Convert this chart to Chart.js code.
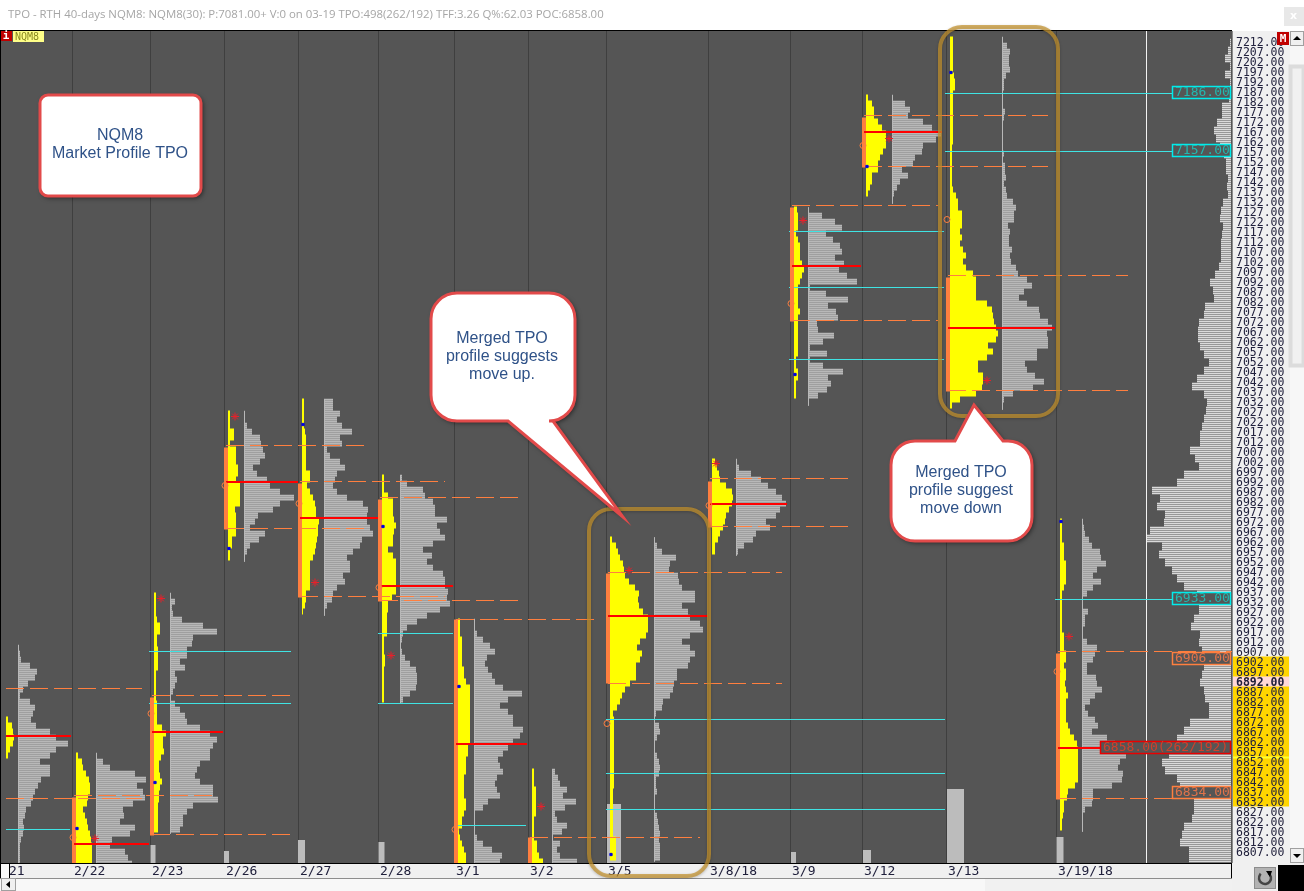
<!DOCTYPE html>
<html>
<head>
<meta charset="utf-8">
<title>TPO NQM8</title>
<style>
html, body { margin: 0; padding: 0; background: #fff; overflow: hidden; }
canvas { display: block; }
</style>
<script src="https://cdn.jsdelivr.net/npm/chart.js@4"></script>
</head>
<body>
<canvas id="tpoChart" width="1304" height="891"></canvas>
<script>
// x axis: day boundaries and their date labels
const dayLines = [72, 150, 224, 298, 378, 454, 528, 606, 708, 790, 862, 946, 1056];
const dayLabels = ['2/22', '2/23', '2/26', '2/27', '2/28', '3/1', '3/2', '3/5', '3/8/18', '3/9', '3/12', '3/13', '3/19/18'];

// one entry per session, 2/21 ... 3/19
const yellowBase = [6, 76, 154, 228, 302, 382, 458, 532, 610, 712, 794, 866, 950, 1060];
const grayBase = [18, 96, 170, 244, 324, 400, 474, 552, 654, 736, 808, 892, 1002, 1082];
const yellowTop = [6874, 6856, 6936, 7027, 7033, 6995, 6923, 6848, 6964, 7003, 7129, 7185, 7214, 6973];
const grayTop = [6910, 6856, 6936, 7027, 7033, 6995, 6923, 6848, 6964, 7003, 7129, 7185, 7214, 6973];

// TPO widths, one value per 3 price rows
const yellowWidths = [
  [2,6,7,8,7,4,2],
  [2,6,7,10,13,14,14,12,11,7,9,11,12,14,15,16,16,16,16],
  [2,2,2,2,3,6,6,3,3,4,4,4,4,2,2,2,2,2,3,3,3,3,8,12,9,9,10,7,5,5,6,8,6,5,5,4,4,4,4,4],
  [2,2,2,6,6,2,8,8,8,10,10,8,12,12,12,12,7,8,8,8,8,4,4,2,2],
  [2,2,2,2,2,3,4,4,4,4,4,4,8,8,5,8,11,13,14,14,17,16,16,15,14,13,11,8,8,8,8,8,4,4,3,1],
  [2,2,2,6,11,11,11,12,14,12,11,11,6,11,14,14,14,14,14,14,10,6,6,5,5,5,5,2,2,2,3,3,2,2,2,2,2,2],
  [2,2,2,4,4,4,4,4,6,6,8,12,12,12,12,12,12,12,12,12,12,10,10,8,8,8,6,6,6,6,8,8,6,4,4,1,2,4,6,8,8],
  [2,2,2,4,4,4,4,4,2,2,2,2,5,5,7,11],
  [2,6,8,10,13,14,15,19,25,29,28,29,33,38,38,38,36,30,27,32,30,26,26,26,20,15,12,10,7,3,4,4,4,4,4,4,4,4,4,4,4,4,3,3,3,3,3,3,3,3,6,6,6,6],
  [3,5,7,8,14,20,21,20,17,14,13,11,8,6,3,3],
  [3,4,4,4,2,4,6,6,6,8,10,8,6,4,4,4,4,6,4,4,4,4,4,4,4,2,2,4,4,2,2,2],
  [2,6,8,8,12,16,20,20,20,17,14,12,12,6,6,4,2],
  [3,3,3,3,3,3,4,5,5,3,3,3,3,3,3,3,3,3,2,2,2,2,2,2,2,3,6,8,8,12,12,12,10,12,10,13,16,13,16,23,26,26,26,26,37,42,43,44,46,48,46,38,43,37,28,28,33,33,32,26,10,2],
  [2,2,2,2,4,4,4,6,6,6,6,4,2,2,2,2,2,2,2,4,4,4,6,6,4,6,6,5,6,8,6,6,6,6,8,10,14,17,18,18,18,18,18,18,15,8,7,4,4,3,2,2]
];
const grayWidths = [
  [1,2,3,12,19,17,10,5,2,12,17,15,13,18,32,38,50,38,32,22,32,32,23,20,17,15,13,8,7,5,6,5,3,2,2,2,2],
  [1,7,14,39,50,41,47,49,37,27,28,24,39,34,16,14,29,32,36],
  [1,5,2,3,12,33,47,23,22,17,17,10,15,5,7,5,3,1,5,10,15,17,30,40,47,43,40,40,30,27,25,30,43,43,48,23,17,13,13,10],
  [1,1,3,8,16,17,19,21,16,9,13,23,26,36,50,36,29,14,11,6,21,15,6,3,1],
  [9,9,16,13,18,28,16,18,3,6,16,21,13,11,9,13,23,39,44,43,43,46,49,38,36,29,23,26,26,19,21,13,9,8,3,1],
  [2,7,23,25,33,35,35,47,37,40,45,33,23,32,27,33,43,45,45,48,47,50,40,27,17,7,3,2,1,2,5,10,16,17,17,16,10,3],
  [1,1,3,9,16,21,13,11,14,18,21,29,48,34,26,34,39,39,49,46,39,34,29,24,26,29,23,21,23,26,14,9,1,1,1,1,3,9,18,28,26],
  [3,6,8,15,11,24,13,3,5,15,10,1,8,5,8,25],
  [1,3,8,22,16,15,24,25,28,41,41,28,34,36,46,49,36,28,36,41,36,34,23,23,20,19,16,9,8,2,1,5,6,3,1,1,3,5,6,5,2,2,3,1,1,1,3,4,5,6,5,6,6,6],
  [1,3,15,25,32,40,46,50,44,40,30,34,20,17,8,2],
  [1,14,27,34,18,25,32,34,27,36,31,39,49,2,18,40,20,28,30,9,10,26,15,2,19,2,15,35,20,23,19,10,1],
  [1,13,18,16,31,40,49,44,31,30,23,21,10,16,8,5,2,1],
  [1,5,8,7,7,8,4,2,2,1,1,1,3,2,1,1,1,1,1,2,1,3,3,4,2,4,5,11,14,12,12,6,8,7,7,10,8,9,14,16,25,30,22,17,25,37,38,46,50,45,46,46,35,35,23,25,33,42,31,11,2,1],
  [1,2,3,7,10,18,19,24,15,11,19,11,5,1,1,6,3,3,1,1,5,15,13,11,5,5,14,15,20,13,8,3,6,13,16,10,25,33,36,44,38,36,41,40,30,11,11,10,3,1,1,1]
];

// merged 40-day profile on the right edge, one value per 4 price rows
const mergedTop = 7213;
const mergedWidths = [
  1,3,6,1,6,1,2,2,9,9,14,17,15,11,7,5,5,3,4,3,8,10,11,8,9,10,10,10,12,16,21,18,17,26,27,32,33,33,31,27,22,27,34,39,27,24,25,27,29,31,31,41,
  36,32,47,54,79,71,74,66,67,81,84,69,72,66,59,54,47,34,32,32,37,40,31,32,29,27,27,29,31,27,26,22,22,41,47,54,47,62,69,66,54,51,42,37,37,39,47,49,51,42,42
];

// point of control per session
const pocPrices = [6864.75, 6810.75, 6866.75, 6991.75, 6973.75, 6939.75, 6860.75, 6924.75, 6980.75, 7099.75, 7166.75, 7068.75, 6858.75];
const pocFrom = [6, 74, 152, 226, 300, 381, 456, 608, 710, 792, 864, 948, 1058];
const pocTo = [71, 149, 223, 298, 378, 453, 527, 708, 787, 861, 942, 1055, 1100];

// value area bars
const vaX = [74, 152, 226, 300, 380, 456, 530, 608, 710, 792, 864, 948, 1058];
const vaHigh = [6834, 6884, 7009, 6991, 6983, 6923, 6814, 6946, 6992, 7129, 7174, 7094, 6906];
const vaLow = [6801, 6815, 6968, 6934, 6932, 6801, 6801, 6891, 6969, 7072, 7149, 7037, 6833];

// dashed value area extensions
const dashPrices = [6888.5, 6833.5, 6835, 6885, 6815.5, 7010, 6968.5, 6992, 6934.5, 6984, 6932.5, 6923, 6814, 6946.5, 6891, 6993.5, 6969.5, 7130, 7072.5, 7175, 7149.5, 7095, 7037.5, 6907, 6833.5];
const dashFrom = [6, 6, 74, 152, 152, 226, 226, 300, 300, 380, 380, 456, 530, 608, 608, 710, 710, 792, 792, 864, 864, 948, 948, 1058, 1058];
const dashTo = [142, 142, 212, 290, 290, 364, 364, 445, 445, 518, 518, 594, 700, 782, 782, 848, 848, 938, 938, 1048, 1048, 1128, 1128, 1232, 1172];

// naked single-print levels
const cyanPrices = [6818, 6907, 6881, 6916, 6881, 6820, 6873, 6846, 6828, 7117, 7089, 7053, 7186, 7157, 6933];
const cyanFrom = [6, 149, 149, 378, 378, 458, 606, 606, 606, 789, 789, 789, 945, 945, 1055];
const cyanTo = [70, 291, 291, 453, 453, 526, 945, 945, 945, 944, 944, 944, 1172, 1172, 1172];

const starX = [95, 161, 235, 315, 391, 541, 629, 716, 803, 889, 987, 1069];
const starPrices = [6813.5, 6933.5, 7024.5, 6941.5, 6905, 6829.5, 6947.5, 7001, 7122.5, 7163.5, 7042.5, 6914.5];
const openX = [73, 151, 225, 299, 379, 455, 607, 709, 791, 863, 947, 1057];
const openPrices = [6814, 6876, 6990, 6981, 6939, 6818, 6871, 6980, 7081, 7160, 7123, 6897];
const blueX = [77, 155, 229, 303, 383, 459, 611, 867, 795, 951, 1061];
const bluePrices = [6818.5, 6841.5, 6958.5, 7020.5, 6969.5, 6889.5, 6805.5, 7149.5, 7045.5, 7196.5, 6972];

// volume columns along the bottom
const volX = [76.5, 153, 226.5, 301.5, 381.5, 614, 793.5, 867, 955.5, 1060];
const volWidth = [3, 5, 5, 7, 6, 14, 5, 8, 17, 7];
const volValues = [18, 18, 12, 23, 21, 59, 11, 13, 74, 26];

const priceTicks = [];
for (let p = 7212; p >= 6807; p -= 5) priceTicks.push(p);

const titleText = 'TPO - RTH 40-days NQM8: NQM8(30): P:7081.00+ V:0 on 03-19 TPO:498(262/192) TFF:3.26 Q%:62.03 POC:6858.00';

function rows(base, top, step, widths, toLeft) {
  const pts = [];
  widths.forEach((w, i) => {
    for (let r = 0; r < step; r++) {
      const p = top - i * step - r;
      pts.push({ x: base, y: p }, { x: toLeft ? base - w : base + w, y: p }, { x: base, y: null });
    }
  });
  return pts;
}

function hLines(prices, from, to) {
  const pts = [];
  prices.forEach((p, i) => pts.push({ x: from[i], y: p }, { x: to[i], y: p }, { x: to[i], y: null }));
  return pts;
}

function lineSet(data, color, width, order, extra) {
  return Object.assign({ data: data, borderColor: color, borderWidth: width, order: order, showLine: true, pointRadius: 0, fill: false, tension: 0, spanGaps: false }, extra || {});
}

function markSet(xs, ys, style, radius, color, fillColor, order) {
  return {
    data: xs.map((x, i) => ({ x: x, y: ys[i] })), showLine: false, pointStyle: style, pointRadius: radius,
    pointBorderColor: color, pointBackgroundColor: fillColor, pointBorderWidth: 1, order: order
  };
}

const datasets = [];
volX.forEach((x, i) => {
  datasets.push(lineSet([{ x: x, y: 0 }, { x: x, y: volValues[i] }], '#bcbcbc', volWidth[i], 10, { yAxisID: 'yVol' }));
});
datasets.push(lineSet(rows(1231, mergedTop, 4, mergedWidths, true), '#dadada', 1.6, 9));
let grayPts = [], yellowPts = [];
grayBase.forEach((b, i) => { grayPts = grayPts.concat(rows(b, grayTop[i], 3, grayWidths[i])); });
yellowBase.forEach((b, i) => { yellowPts = yellowPts.concat(rows(b, yellowTop[i], 3, yellowWidths[i])); });
// thin spine down each gray profile, the narrow rows read as a continuous line
const spinePts = [];
grayBase.forEach((b, i) => {
  spinePts.push({ x: b + 0.5, y: grayTop[i] }, { x: b + 0.5, y: grayTop[i] - grayWidths[i].length * 3 }, { x: b + 0.5, y: null });
});
datasets.push(lineSet(spinePts, '#b8b8b8', 1, 8));
datasets.push(lineSet(grayPts, '#b8b8b8', 1.75, 8));
datasets.push(lineSet(yellowPts, '#ffff00', 2.1, 7));
datasets.push(lineSet([{ x: 1146.5, y: 6800 }, { x: 1146.5, y: 7218 }], '#f2f2f2', 1, 6));
datasets.push(lineSet(hLines(cyanPrices, cyanFrom, cyanTo), '#3fe3e3', 1, 5));
datasets.push(lineSet(hLines(dashPrices, dashFrom, dashTo), '#ff7f3f', 1, 4, { borderDash: [18, 6] }));
const vaPts = [];
vaX.forEach((x, i) => vaPts.push({ x: x, y: vaHigh[i] }, { x: x, y: vaLow[i] }, { x: x, y: null }));
datasets.push(lineSet(vaPts, '#ff7f3f', 4, 3));
datasets.push(lineSet(hLines(pocPrices, pocFrom, pocTo), '#ff0000', 2, 2));
datasets.push(markSet(starX, starPrices, 'star', 4, '#e8202a', 'transparent', 1));
datasets.push(markSet(openX, openPrices, 'circle', 3, '#ff7f3f', 'transparent', 1));
datasets.push(markSet(blueX, bluePrices, 'rect', 1.6, '#0000e0', '#0000e0', 0));

function rr(ctx, x0, y0, x1, y1, r) {
  ctx.beginPath();
  ctx.roundRect(x0, y0, x1 - x0, y1 - y0, r);
}

function noteText(ctx, lines, cx, ys) {
  ctx.save();
  ctx.shadowColor = 'transparent';
  ctx.fillStyle = '#2f5288';
  ctx.font = '16px "Liberation Sans"';
  ctx.textAlign = 'center';
  ctx.textBaseline = 'middle';
  lines.forEach((t, i) => ctx.fillText(t, cx, ys[i]));
  ctx.restore();
}

function callout(ctx, x0, y0, x1, y1, r, tail) {
  // rounded box with a wedge pulled out of one edge
  ctx.beginPath();
  ctx.moveTo(x0 + r, y0);
  if (tail.edge === 'top') { ctx.lineTo(tail.a, y0); ctx.lineTo(tail.x, tail.y); ctx.lineTo(tail.b, y0); }
  ctx.arcTo(x1, y0, x1, y1, r);
  ctx.arcTo(x1, y1, x0, y1, r);
  if (tail.edge === 'bottom') {
    // arcTo above leaves the pen on the bottom edge, heading left
    ctx.lineTo(tail.b, y1); ctx.lineTo(tail.x, tail.y); ctx.lineTo(tail.a, y1);
  }
  ctx.arcTo(x0, y1, x0, y0, r);
  ctx.arcTo(x0, y0, x1, y0, r);
  ctx.closePath();
  ctx.fillStyle = '#fff';
  ctx.strokeStyle = '#e24a4a';
  ctx.lineWidth = 3;
  ctx.shadowColor = 'rgba(0,0,0,0.55)';
  ctx.shadowBlur = 5;
  ctx.shadowOffsetX = 2;
  ctx.shadowOffsetY = 2;
  ctx.fill();
  ctx.shadowColor = 'transparent';
  ctx.stroke();
}

function levelBox(ctx, x0, y0, x1, y1, text, border, color) {
  ctx.fillStyle = '#555555';
  ctx.fillRect(x0, y0, x1 - x0, y1 - y0);
  ctx.strokeStyle = border;
  ctx.lineWidth = 1.5;
  ctx.strokeRect(x0 + 0.5, y0 + 0.5, x1 - x0 - 1, y1 - y0 - 1);
  ctx.fillStyle = color;
  ctx.font = '13px "DejaVu Sans Mono"';
  ctx.textAlign = 'left';
  ctx.textBaseline = 'middle';
  ctx.fillText(text, x0 + 3, (y0 + y1) / 2 + 0.5);
}

function button(ctx, x, y, w, h) {
  ctx.fillStyle = '#f0f0f0';
  ctx.fillRect(x, y, w, h);
  ctx.strokeStyle = '#a0a0a0';
  ctx.lineWidth = 1;
  ctx.strokeRect(x + 0.5, y + 0.5, w - 1, h - 1);
}

function tri(ctx, a, b, c) {
  ctx.fillStyle = '#000';
  ctx.beginPath();
  ctx.moveTo(a[0], a[1]);
  ctx.lineTo(b[0], b[1]);
  ctx.lineTo(c[0], c[1]);
  ctx.closePath();
  ctx.fill();
}

const frame = {
  id: 'frame',
  beforeDraw(chart) {
    const ctx = chart.ctx;
    const y = chart.scales.y;
    ctx.save();
    ctx.fillStyle = '#fff';
    ctx.fillRect(0, 0, 1304, 891);
    ctx.fillStyle = '#a6a6a6';
    ctx.font = '11.4px "Open Sans"';
    ctx.textBaseline = 'middle';
    ctx.fillText(titleText, 8, 15);
    ctx.fillStyle = '#e8e8e8';
    ctx.fillRect(1284, 7, 20, 19);
    ctx.fillStyle = '#fff';
    ctx.font = 'bold 11px "DejaVu Sans"';
    ctx.fillText('x', 1290, 16);
    // plot, price column and date strip
    ctx.fillStyle = '#555555';
    ctx.fillRect(0, 31, 1232, 832);
    ctx.fillStyle = '#f0f0f0';
    ctx.fillRect(1232, 31, 58, 832);
    ctx.fillRect(0, 863, 1232, 15);
    ctx.fillStyle = '#ffd500';
    ctx.fillRect(1233, y.getPixelForValue(6904.5), 56, y.getPixelForValue(6829.5) - y.getPixelForValue(6904.5));
    ctx.fillStyle = '#ffd8d8';
    ctx.fillRect(1233, y.getPixelForValue(6894.5), 56, 10);
    ctx.fillStyle = '#ffff30';
    ctx.fillRect(1233, y.getPixelForValue(6854.5) + 0, 56, 2);
    ctx.restore();
  },
  afterDraw(chart) {
    const ctx = chart.ctx;
    ctx.save();
    // frame lines
    ctx.fillStyle = '#000';
    ctx.fillRect(0, 30, 1232, 1);
    ctx.fillRect(0, 31, 1, 847);
    ctx.fillRect(0, 863, 1232, 1);
    ctx.fillRect(1231, 863, 1, 15);
    ctx.fillRect(9, 863, 1, 15);
    ctx.fillStyle = '#8c8c8c';
    ctx.fillRect(1232, 31, 1, 832);
    ctx.fillRect(0, 878, 1232, 1);
    ctx.fillStyle = '#fafafa';
    ctx.fillRect(1, 864, 8, 14);

    // levels on the right
    levelBox(ctx, 1172, 86, 1231, 99, '7186.00', '#00ecec', '#22b8b0');
    levelBox(ctx, 1172, 144, 1231, 157, '7157.00', '#00ecec', '#22b8b0');
    levelBox(ctx, 1172, 592, 1231, 605, '6933.00', '#00ecec', '#22b8b0');
    levelBox(ctx, 1172, 652, 1231, 665, '6906.00', '#ff7f3f', '#e0734a');
    levelBox(ctx, 1172, 786, 1231, 799, '6834.00', '#ff7f3f', '#e0734a');
    levelBox(ctx, 1100, 741, 1231, 754, '6858.00(262/192)', '#e80000', '#d0402c');

    // tags in the corners
    ctx.fillStyle = '#c00000';
    ctx.fillRect(1, 31, 11, 10);
    ctx.fillRect(1277, 32, 12, 13);
    ctx.fillStyle = '#ffff88';
    ctx.fillRect(13, 31, 31, 11);
    ctx.textBaseline = 'middle';
    ctx.font = 'bold 11px "DejaVu Sans Mono"';
    ctx.fillStyle = '#fff';
    ctx.textAlign = 'center';
    ctx.fillText('i', 6, 36.5);
    ctx.fillText('M', 1283, 39);
    ctx.font = '10px "DejaVu Sans Mono"';
    ctx.fillStyle = '#8a8a20';
    ctx.textAlign = 'left';
    ctx.fillText('NQM8', 15, 37);

    // merged-profile frames
    ctx.strokeStyle = 'rgba(196,146,44,0.72)';
    ctx.lineWidth = 4;
    ctx.shadowColor = 'rgba(0,0,0,0.3)';
    ctx.shadowBlur = 3;
    ctx.shadowOffsetY = 1;
    rr(ctx, 589, 509, 709, 876, 22);
    ctx.stroke();
    rr(ctx, 940, 27, 1058, 416, 22);
    ctx.stroke();
    ctx.shadowColor = 'transparent';
    ctx.shadowBlur = 0;
    ctx.shadowOffsetY = 0;

    // notes
    ctx.save();
    ctx.fillStyle = '#fff';
    ctx.strokeStyle = '#e24a4a';
    ctx.lineWidth = 3;
    ctx.shadowColor = 'rgba(0,0,0,0.55)';
    ctx.shadowBlur = 5;
    ctx.shadowOffsetX = 2;
    ctx.shadowOffsetY = 2;
    rr(ctx, 40, 95, 201, 196, 8);
    ctx.fill();
    ctx.shadowColor = 'transparent';
    ctx.stroke();
    ctx.restore();
    noteText(ctx, ['NQM8', 'Market Profile TPO'], 120, [136, 154]);

    ctx.save();
    callout(ctx, 431, 293, 575, 421, 26, { edge: 'bottom', a: 508, b: 553, x: 623, y: 517 });
    ctx.restore();
    noteText(ctx, ['Merged TPO', 'profile suggests', 'move up.'], 502, [339, 357, 375]);

    ctx.save();
    callout(ctx, 891, 441, 1032, 541, 24, { edge: 'top', a: 955, b: 1003, x: 974, y: 405 });
    ctx.restore();
    noteText(ctx, ['Merged TPO', 'profile suggest', 'move down'], 961, [473, 491, 509]);

    // scrollbars and corner
    ctx.fillStyle = '#f7f7f7';
    ctx.fillRect(1290, 31, 14, 832);
    ctx.fillStyle = '#f1f1f1';
    ctx.fillRect(1291, 66, 12, 299);
    ctx.strokeStyle = '#dcdcdc';
    ctx.strokeRect(1290.5, 66.5, 13, 299);
    button(ctx, 1290, 31, 14, 15);
    button(ctx, 1290, 848, 14, 15);
    tri(ctx, [1293, 40], [1301, 40], [1297, 36]);
    tri(ctx, [1293, 854], [1301, 854], [1297, 858]);
    ctx.fillStyle = '#f8f8f8';
    ctx.fillRect(0, 879, 1254, 12);
    ctx.fillStyle = '#f1f1f1';
    ctx.fillRect(985, 879, 252, 12);
    button(ctx, 1, 878, 15, 13);
    button(ctx, 1238, 878, 15, 13);
    tri(ctx, [10, 881], [10, 888], [6, 884.5]);
    tri(ctx, [1244, 881], [1244, 888], [1248, 884.5]);
    ctx.fillStyle = '#f0f0f0';
    ctx.fillRect(1232, 863, 72, 28);
    ctx.fillStyle = '#b2b2b2';
    ctx.fillRect(1254, 867, 22, 22);
    ctx.strokeStyle = '#8c8c8c';
    ctx.strokeRect(1254.5, 867.5, 21, 21);
    ctx.strokeStyle = '#444';
    ctx.lineWidth = 2.5;
    ctx.beginPath();
    ctx.arc(1265, 878, 6, -0.3 * Math.PI, 1.25 * Math.PI);
    ctx.stroke();
    tri(ctx, [1266, 871], [1272, 871], [1270, 877]);
    ctx.fillStyle = '#000';
    ctx.fillRect(1278, 865, 26, 26);
    ctx.restore();
  }
};

const tpoChart = new Chart(document.getElementById('tpoChart'), {
  type: 'scatter',
  data: { datasets: datasets },
  options: {
    responsive: false,
    animation: false,
    events: [],
    layout: { autoPadding: false, padding: { top: 31, right: 14, left: 0, bottom: 0 } },
    plugins: { legend: { display: false }, tooltip: { enabled: false }, title: { display: false } },
    scales: {
      x: {
        type: 'linear',
        min: 0,
        max: 1232,
        afterBuildTicks(scale) {
          scale.ticks = [{ value: 7 }].concat(dayLines.map(v => ({ value: v })));
        },
        afterFit(scale) {
          scale.height = 28;
          scale.paddingLeft = 0;
          scale.paddingRight = 0;
        },
        grid: {
          drawTicks: false,
          tickLength: 0,
          color: ctx => (ctx.tick && ctx.tick.value === 7 ? 'rgba(0,0,0,0)' : '#3f3f3f'),
          lineWidth: 1
        },
        border: { display: false },
        ticks: {
          autoSkip: false,
          maxRotation: 0,
          minRotation: 0,
          align: 'start',
          labelOffset: 2,
          padding: 1,
          color: '#20203c',
          font: { family: '"DejaVu Sans Mono"', size: 13 },
          callback: v => (v === 7 ? '21' : dayLabels[dayLines.indexOf(v)])
        }
      },
      y: {
        type: 'linear',
        position: 'right',
        min: 6801.25,
        max: 7217.25,
        afterBuildTicks(scale) {
          scale.ticks = priceTicks.map(v => ({ value: v }));
        },
        afterFit(scale) {
          scale.width = 58;
          scale.paddingTop = 0;
          scale.paddingBottom = 0;
        },
        grid: { display: false, drawTicks: false, tickLength: 0 },
        border: { display: false },
        ticks: {
          autoSkip: false,
          crossAlign: 'near',
          padding: 4,
          labelOffset: 1.5,
          color: '#20203c',
          font: ctx => ({
            family: '"DejaVu Sans Mono"',
            size: 11.5,
            weight: ctx.tick && ctx.tick.value === 6892 ? 'bold' : 'normal'
          }),
          callback: v => v.toFixed(2)
        }
      },
      yVol: { type: 'linear', display: false, min: 0, max: 832 }
    }
  },
  plugins: [frame]
});
</script>
</body>
</html>
